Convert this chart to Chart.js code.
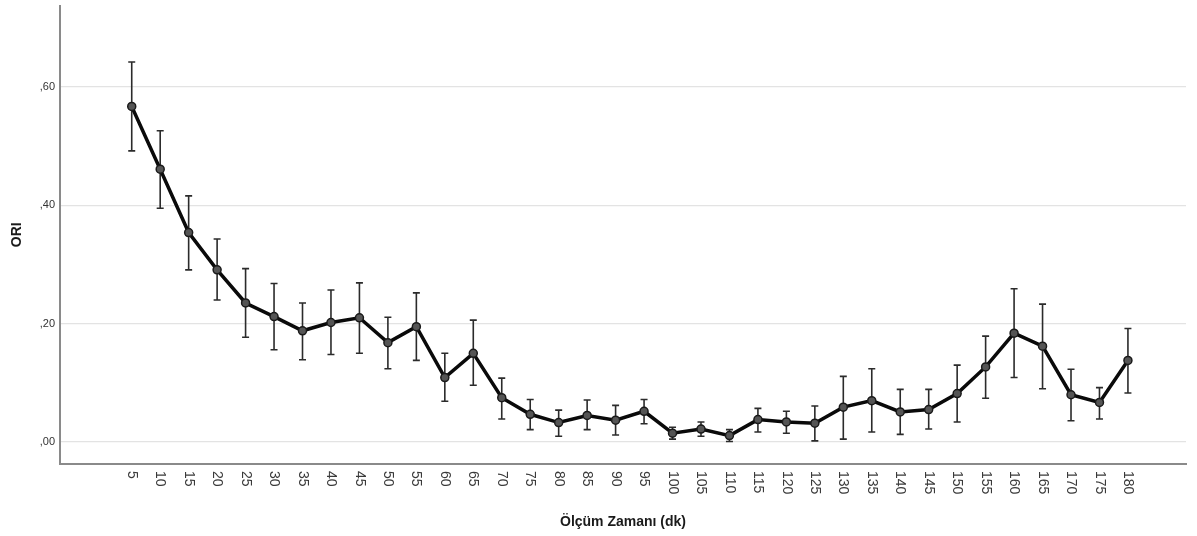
<!DOCTYPE html>
<html>
<head>
<meta charset="utf-8">
<title>ORI</title>
<script src="https://cdn.jsdelivr.net/npm/chart.js@4/dist/chart.umd.min.js"></script>
<style>
    body { margin: 0; background: #fff; }
    #wrap { width: 1197px; height: 536px; }
</style>
</head>
<body>
<div id="wrap"><canvas id="oriChart" width="1197" height="536"></canvas></div>
<script>
// measurement times (dk)
const times = [5, 10, 15, 20, 25, 30, 35, 40, 45, 50, 55, 60, 65, 70, 75, 80, 85, 90,
    95, 100, 105, 110, 115, 120, 125, 130, 135, 140, 145, 150, 155, 160, 165, 170, 175, 180];

// mean ORI and error bar ends
const means = [0.567, 0.461, 0.354, 0.291, 0.235, 0.212, 0.188, 0.202, 0.210, 0.168,
    0.195, 0.109, 0.150, 0.075, 0.047, 0.033, 0.045, 0.037, 0.052, 0.015,
    0.022, 0.011, 0.038, 0.034, 0.032, 0.059, 0.070, 0.051, 0.055, 0.082,
    0.127, 0.184, 0.162, 0.080, 0.067, 0.138];
const upper = [0.642, 0.526, 0.416, 0.343, 0.293, 0.268, 0.235, 0.257, 0.269, 0.211,
    0.252, 0.150, 0.206, 0.108, 0.072, 0.054, 0.071, 0.062, 0.072, 0.025,
    0.034, 0.021, 0.057, 0.052, 0.061, 0.111, 0.124, 0.089, 0.089, 0.130,
    0.179, 0.259, 0.233, 0.123, 0.092, 0.192];
const lower = [0.492, 0.395, 0.291, 0.240, 0.177, 0.156, 0.139, 0.148, 0.150, 0.124,
    0.138, 0.069, 0.096, 0.039, 0.021, 0.010, 0.021, 0.012, 0.031, 0.005,
    0.010, 0.001, 0.017, 0.015, 0.002, 0.005, 0.017, 0.013, 0.022, 0.034,
    0.074, 0.109, 0.090, 0.036, 0.039, 0.083];

// y tick values
const yTicks = [0, 0.2, 0.4, 0.6];

// error bars, drawn under the line
const errorBars = {
    id: 'errorBars',
    beforeDatasetsDraw(chart) {
        const ctx = chart.ctx;
        const xs = chart.scales.x, ys = chart.scales.y;
        ctx.save();
        ctx.strokeStyle = '#2b2b2b';
        ctx.lineWidth = 1.6;
        times.forEach((t, i) => {
            const x = xs.getPixelForValue(t);
            const yTop = ys.getPixelForValue(upper[i]);
            const yBot = ys.getPixelForValue(lower[i]);
            ctx.beginPath();
            ctx.moveTo(x, yTop); ctx.lineTo(x, yBot);
            ctx.moveTo(x - 3.5, yTop); ctx.lineTo(x + 3.5, yTop);
            ctx.moveTo(x - 3.5, yBot); ctx.lineTo(x + 3.5, yBot);
            ctx.stroke();
        });
        ctx.restore();
    }
};

// x labels read top to bottom, starting under the axis
const xLabels = {
    id: 'xLabels',
    afterDraw(chart) {
        const ctx = chart.ctx;
        const xs = chart.scales.x;
        ctx.save();
        ctx.fillStyle = '#3a3a3a';
        ctx.font = '14px Arial, "Liberation Sans", sans-serif';
        ctx.textAlign = 'left';
        ctx.textBaseline = 'middle';
        times.forEach(t => {
            ctx.save();
            ctx.translate(xs.getPixelForValue(t), xs.top + 7);
            ctx.rotate(Math.PI / 2);
            ctx.fillText(String(t), 0, 0);
            ctx.restore();
        });
        ctx.restore();
    }
};

const ctx = document.getElementById('oriChart').getContext('2d');
new Chart(ctx, {
    type: 'line',
    data: {
        datasets: [{
            label: 'ORI',
            data: times.map((t, i) => ({ x: t, y: means[i] })),
            borderColor: '#0a0a0a',
            borderWidth: 3.5,
            tension: 0,
            pointRadius: 4,
            pointBackgroundColor: '#555',
            pointBorderColor: '#1a1a1a',
            pointBorderWidth: 1.5
        }]
    },
    options: {
        responsive: false,
        animation: false,
        layout: { padding: { top: 5, right: 11, left: 0, bottom: 0 } },
        plugins: { legend: { display: false }, tooltip: { enabled: false } },
        scales: {
            x: {
                type: 'linear',
                min: -7.6,
                max: 190.2,
                afterBuildTicks: s => { s.ticks = times.map(v => ({ value: v })); },
                afterFit: s => { s.height = 72; s.paddingLeft = 0; s.paddingRight = 0; },
                grid: { display: false },
                border: { color: '#8a8a8a', width: 2 },
                ticks: { display: false },
                title: {
                    display: true,
                    text: 'Ölçüm Zamanı (dk)',
                    color: '#1a1a1a',
                    font: { family: 'Arial, "Liberation Sans", sans-serif', size: 14, weight: 'bold' },
                    padding: { top: 0, bottom: 5 }
                }
            },
            y: {
                min: -0.037,
                max: 0.7375,
                afterBuildTicks: s => { s.ticks = yTicks.map(v => ({ value: v })); },
                afterFit: s => { s.width = 60; s.paddingTop = 0; s.paddingBottom = 0; },
                grid: { color: '#e3e3e3', lineWidth: 1.2, drawTicks: false },
                border: { color: '#8a8a8a', width: 2 },
                ticks: {
                    color: '#333',
                    padding: 5,
                    font: { family: 'Arial, "Liberation Sans", sans-serif', size: 11 },
                    callback: v => ',' + (v * 100).toFixed(0).padStart(2, '0')
                },
                title: {
                    display: true,
                    text: 'ORI',
                    color: '#1a1a1a',
                    font: { family: 'Arial, "Liberation Sans", sans-serif', size: 14, weight: 'bold' },
                    padding: { top: 9, bottom: 0 }
                }
            }
        }
    },
    plugins: [errorBars, xLabels]
});
</script>
</body>
</html>
